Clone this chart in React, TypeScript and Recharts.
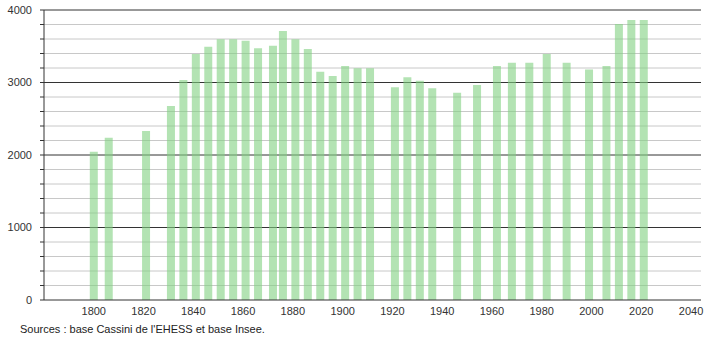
import { Bar, BarChart, CartesianGrid, XAxis, YAxis } from "recharts";

// census years and population
const years = [
  1800, 1806, 1821, 1831, 1836, 1841, 1846, 1851, 1856, 1861, 1866, 1872, 1876,
  1881, 1886, 1891, 1896, 1901, 1906, 1911, 1921, 1926, 1931, 1936, 1946, 1954,
  1962, 1968, 1975, 1982, 1990, 1999, 2006, 2011, 2016, 2021,
];
const population = [
  2046, 2239, 2331, 2676, 3034, 3393, 3494, 3596, 3596, 3577, 3471, 3508, 3710,
  3596, 3462, 3149, 3090, 3228, 3195, 3195, 2933, 3071, 3025, 2919, 2860, 2966,
  3228, 3273, 3273, 3393, 3273, 3181, 3228, 3807, 3862, 3862,
];
const xTicks = [1800, 1820, 1840, 1860, 1880, 1900, 1920, 1940, 1960, 1980, 2000, 2020, 2040];
const yTicks = [0, 200, 400, 600, 800, 1000, 1200, 1400, 1600, 1800, 2000, 2200, 2400, 2600, 2800, 3000, 3200, 3400, 3600, 3800, 4000];
const majorLines = [1000, 2000, 3000, 4000];
const minorLines = yTicks.filter((v) => v % 1000 !== 0);

const data = years.map((y, i) => ({ year: y, pop: population[i] }));

const font = "'Liberation Sans', Arial, sans-serif";
const ink = "#333";

export default function App() {
  return (
    <div style={{ position: "absolute", left: 0, top: 0, width: 710, height: 340, background: "#fff", fontFamily: font }}>
      <BarChart width={710} height={340} data={data} margin={{ top: 10, right: 9, left: 0, bottom: 20 }}>
        <CartesianGrid vertical={false} horizontalValues={minorLines} stroke="#c8c8c8" />
        <CartesianGrid vertical={false} horizontalValues={majorLines} stroke="#333" />
        <XAxis
          dataKey="year"
          type="number"
          domain={[1780, 2044]}
          ticks={xTicks}
          allowDataOverflow
          height={20}
          stroke={ink}
          tickLine={false}
          tick={{ fill: ink, fontSize: 11, fontFamily: font }}
          tickMargin={1}
          interval={0}
        />
        <YAxis
          type="number"
          domain={[0, 4000]}
          ticks={yTicks}
          width={44}
          stroke={ink}
          tickSize={4}
          tickMargin={8}
          interval={0}
          tick={{ fill: ink, fontSize: 11, fontFamily: font }}
          tickFormatter={(v: number) => (v % 1000 === 0 ? String(v) : "")}
        />
        <Bar dataKey="pop" barSize={8} fill="rgb(128,208,128)" fillOpacity={0.6} isAnimationActive={false} />
      </BarChart>
      <div style={{ position: "absolute", left: 20, top: 323, fontSize: 11, color: "#222" }}>
        Sources : base Cassini de l'EHESS et base Insee.
      </div>
    </div>
  );
}
